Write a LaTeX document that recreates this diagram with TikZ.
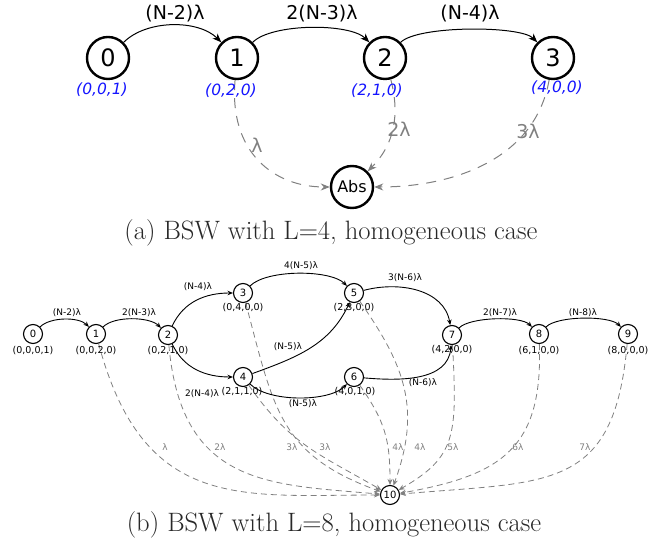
\documentclass[tikz,border=0pt]{standalone}
\usepackage{fontspec}
\newfontfamily\dv{DejaVu Sans}
\usetikzlibrary{arrows.meta}
\definecolor{lblue}{RGB}{20,20,255}
\definecolor{egray}{RGB}{128,128,128}
\definecolor{capgray}{RGB}{40,40,40}
\begin{document}
\begin{tikzpicture}[x=1pt,y=1pt,
  bignode/.style={circle, draw, fill=white, line width=2.4pt, minimum size=42pt, inner sep=0pt, font=\dv\fontsize{24}{24}\selectfont},
  absnode/.style={circle, draw, fill=white, line width=2.4pt, minimum size=42pt, inner sep=0pt, font=\dv\fontsize{16}{16}\selectfont},
  smallnode/.style={circle, draw, fill=white, line width=1.1pt, minimum size=19pt, inner sep=0pt, font=\dv\fontsize{10}{10}\selectfont},
  bluelab/.style={text=lblue, font=\dv\itshape\fontsize{15.5}{15.5}\selectfont, inner sep=0pt},
  toplab/.style={font=\dv\fontsize{19}{19}\selectfont, inner sep=0pt},
  graylabA/.style={text=egray, font=\dv\fontsize{19}{19}\selectfont, inner sep=0pt},
  statelab/.style={font=\dv\fontsize{9.5}{9.5}\selectfont, inner sep=0pt},
  edgelab/.style={font=\dv\fontsize{9}{9}\selectfont, inner sep=0pt},
  graylabB/.style={text=egray, font=\dv\fontsize{9}{9}\selectfont, inner sep=0pt},
  caption/.style={text=capgray, font=\fontsize{26.6}{30}\selectfont, inner sep=0pt},
  blkA/.style={line width=1pt, -{Stealth[length=9pt,width=7pt]}},
  blkB/.style={line width=0.9pt, -{Stealth[length=5.5pt,width=4.5pt]}},
  gdA/.style={draw=egray, line width=1pt, dash pattern=on 10pt off 8pt, -{Stealth[length=9pt,width=7pt]}},
  gdB/.style={draw=egray, line width=0.8pt, dash pattern=on 6pt off 4pt, -{Stealth[length=6pt,width=5pt]}},
]
\useasboundingbox (0,0) rectangle (662,546);

% ---------- part (a) ----------
\node[bignode] (a0) at (108,488) {0};
\node[bignode] (a1) at (237,488) {1};
\node[bignode] (a2) at (385,488) {2};
\node[bignode] (a3) at (553,488) {3};
\node[absnode] (abs) at (352,359) {Abs};

\draw[gdA] (a1) to[out=-95,in=180,out looseness=1.3,in looseness=1] (abs);
\draw[gdA] (a2) to[out=-75,in=45] (abs);
\draw[gdA] (a3) to[out=-100,in=0] (abs);

\draw[blkA] (a0) to[out=45,in=135,looseness=0.85] (a1);
\draw[blkA] (a1) to[out=45,in=135,looseness=0.6] (a2);
\draw[blkA] (a2) to[out=45,in=135,looseness=0.45] (a3);

\node[bluelab] (la0) at (102,456) {(0,0,1)};
\node[bluelab] (la1) at (231,455) {(0,2,0)};
\node[bluelab] (la2) at (377,455) {(2,1,0)};
\node[bluelab] (la3) at (557,458) {(4,0,0)};

\node[toplab] (ea01) at (175,532) {(N-2)λ};
\node[toplab] (ea12) at (322,532) {2(N-3)λ};
\node[toplab] (ea23) at (470,532) {(N-4)λ};

\node[graylabA] (ga1) at (257,401) {λ};
\node[graylabA] (ga2) at (399,417) {2λ};
\node[graylabA] (ga3) at (528,415) {3λ};

\node[caption] (capa) at (331,313) {(a) BSW with L=4, homogeneous case};

% ---------- part (b) ----------
\node[smallnode] (b0) at (33,212) {0};
\node[smallnode] (b1) at (96,212) {1};
\node[smallnode] (b2) at (168,211) {2};
\node[smallnode] (b3) at (243,253) {3};
\node[smallnode] (b4) at (243,169) {4};
\node[smallnode] (b5) at (354,253) {5};
\node[smallnode] (b6) at (354,169) {6};
\node[smallnode] (b7) at (452,211) {7};
\node[smallnode] (b8) at (539,212) {8};
\node[smallnode] (b9) at (628,212) {9};
\node[smallnode] (b10) at (390,51) {10};

\draw[gdB] (b1) to[out=-75,in=180,out looseness=1.4,in looseness=1.1] (b10);
\draw[gdB] (b2) to[out=-85,in=175,out looseness=1.4,in looseness=1.1] (b10);
\draw[gdB] (b3) to[out=-75,in=160,looseness=1.2] (b10);
\draw[gdB] (b4) to[out=-55,in=150,looseness=1.1] (b10);
\draw[gdB] (b5) to[out=-55,in=70,looseness=1.1] (b10);
\draw[gdB] (b6) to[out=-55,in=90,looseness=1.1] (b10);
\draw[gdB] (b7) to[out=-87,in=30,out looseness=1.5,in looseness=1.1] (b10);
\draw[gdB] (b8) to[out=-88,in=10,looseness=1.3] (b10);
\draw[gdB] (b9) to[out=-95,in=5,looseness=1.4] (b10);

\draw[blkB] (b0) to[out=45,in=135,looseness=0.75] (b1);
\draw[blkB] (b1) to[out=45,in=135,looseness=0.7] (b2);
\draw[blkB] (b2) to[out=65,in=180] (b3);
\draw[blkB] (b2) to[out=-65,in=180] (b4);
\draw[blkB] (b3) to[out=45,in=135,looseness=0.62] (b5);
\draw[blkB] (b4) to[out=-45,in=-135,looseness=0.68] (b6);
\draw[blkB] (b4) to[out=20,in=-115] (b5);
\draw[blkB] (b5) to[out=15,in=100] (b7);
\draw[blkB] (b6) to[out=-5,in=-95] (b7);
\draw[blkB] (b7) to[out=45,in=135,looseness=0.55] (b8);
\draw[blkB] (b8) to[out=45,in=135,looseness=0.55] (b9);

\node[statelab] (s0) at (33,195) {(0,0,0,1)};
\node[statelab] (s1) at (96,195) {(0,0,2,0)};
\node[statelab] (s2) at (168,195) {(0,2,1,0)};
\node[statelab] (s3) at (243,238) {(0,4,0,0)};
\node[statelab] (s4) at (242,154) {(2,1,1,0)};
\node[statelab] (s5) at (354,238) {(2,3,0,0)};
\node[statelab] (s6) at (355,154) {(4,0,1,0)};
\node[statelab] (s7) at (452,196) {(4,2,0,0)};
\node[statelab] (s8) at (539,195) {(6,1,0,0)};
\node[statelab] (s9) at (628,195) {(8,0,0,0)};

\node[edgelab] (e01) at (67,233) {(N-2)λ};
\node[edgelab] (e12) at (139,233) {2(N-3)λ};
\node[edgelab] (e23) at (198,259) {(N-4)λ};
\node[edgelab] (e24) at (202,152) {2(N-4)λ};
\node[edgelab] (e35) at (301,280) {4(N-5)λ};
\node[edgelab] (e57) at (405,268) {3(N-6)λ};
\node[edgelab] (e45) at (288,199) {(N-5)λ};
\node[edgelab] (e46) at (303,142) {(N-5)λ};
\node[edgelab] (e67) at (423,163) {(N-6)λ};
\node[edgelab] (e78) at (500,233) {2(N-7)λ};
\node[edgelab] (e89) at (583,233) {(N-8)λ};

\node[graylabB] (g1) at (165,99) {λ};
\node[graylabB] (g2) at (220,99) {2λ};
\node[graylabB] (g4) at (292,99) {3λ};
\node[graylabB] (g3) at (325,99) {3λ};
\node[graylabB] (g6) at (398,99) {4λ};
\node[graylabB] (g5) at (420,99) {4λ};
\node[graylabB] (g7) at (453,99) {5λ};
\node[graylabB] (g8) at (518,99) {6λ};
\node[graylabB] (g9) at (585,99) {7λ};

\node[caption] (capb) at (334,21) {(b) BSW with L=8, homogeneous case};
\end{tikzpicture}
\end{document}
